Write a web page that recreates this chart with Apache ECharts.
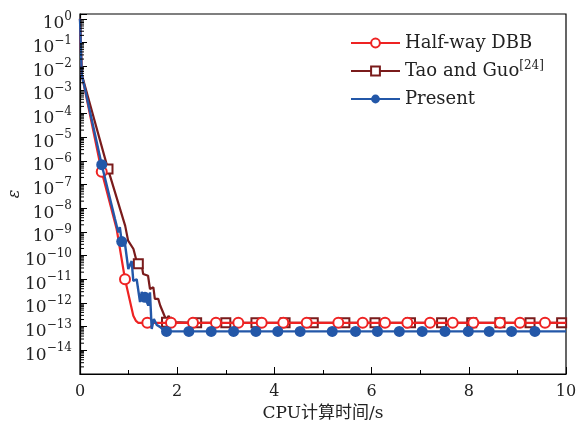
<!DOCTYPE html>
<html><head><meta charset="utf-8">
<script src="https://cdn.jsdelivr.net/npm/echarts@6/dist/echarts.min.js"></script>
<style>html,body{margin:0;padding:0;background:#fff}#c{width:577px;height:427px}</style>
</head><body><div id="c"></div>
<script>
// ---- data ----
const seriesNames = ['Half-way DBB', 'Tao and Guo', 'Present'];
const xTicks = [0, 2, 4, 6, 8, 10];
const yTickExponents = [-14,-13,-12,-11,-10,-9,-8,-7,-6,-5,-4,-3,-2,-1,0];

// Half-way DBB (line vertices)
const redT = [0, 0.035, 0.447, 0.70, 0.755, 0.926, 1.097, 1.152, 1.20, 10];
const redV = [1, 4.6e-3, 3.5e-7, 3.5e-9, 1.3e-9, 1.0e-11, 2.9e-13, 1.75e-13, 1.45e-13, 1.45e-13];
const redMarkT = [0.447, 0.926, 1.385, 1.872, 2.325, 2.798, 3.257, 3.739, 4.183, 4.665, 5.315, 5.817, 6.276, 6.735, 7.202, 7.669, 8.093, 8.642, 9.053, 9.568];
const redMarkV = [3.5e-7, 1.0e-11, 1.45e-13, 1.45e-13, 1.45e-13, 1.45e-13, 1.45e-13, 1.45e-13, 1.45e-13, 1.45e-13, 1.45e-13, 1.45e-13, 1.45e-13, 1.45e-13, 1.45e-13, 1.45e-13, 1.45e-13, 1.45e-13, 1.45e-13, 1.45e-13];

// Tao and Guo
const darkT = [0, 0.035, 0.576, 0.93, 0.99, 1.10, 1.17, 1.20, 1.22, 1.27, 1.30, 1.40, 1.44, 1.51, 1.54, 1.61, 1.65, 1.68, 1.75, 1.78, 1.82, 1.89, 10];
const darkV = [1, 4.6e-3, 4.5e-7, 1.8e-9, 4.3e-10, 1.9e-10, 5.2e-11, 4.5e-11, 6.8e-11, 4.0e-11, 1.66e-11, 1.41e-11, 3.9e-12, 4.6e-12, 1.48e-12, 1.48e-12, 7.8e-13, 8.9e-13, 2.5e-13, 1.55e-13, 2.9e-13, 1.55e-13, 1.45e-13];
const darkMarkT = [0.576, 1.20, 1.78, 2.40, 3.00, 3.62, 4.22, 4.80, 5.45, 6.07, 6.80, 7.44, 8.06, 8.64, 9.26, 9.91];
const darkMarkV = [4.5e-7, 4.5e-11, 1.55e-13, 1.45e-13, 1.45e-13, 1.45e-13, 1.45e-13, 1.45e-13, 1.45e-13, 1.45e-13, 1.45e-13, 1.45e-13, 1.45e-13, 1.45e-13, 1.45e-13, 1.45e-13];

// Present
const blueT = [0, 0.035, 0.447, 0.72, 0.789, 0.82, 0.858, 0.926, 0.994, 1.063, 1.097, 1.166, 1.235, 1.27, 1.337, 1.405, 1.44, 1.475, 1.52, 1.58, 1.646, 1.75, 10];
const blueV = [1, 4.6e-3, 6.9e-7, 3.5e-9, 9.5e-10, 1.6e-9, 3.9e-10, 3.1e-10, 2.7e-11, 5.9e-11, 8.5e-12, 1.0e-11, 1.1e-12, 2.9e-12, 1.74e-12, 7.8e-13, 2.8e-12, 7.9e-14, 2.1e-13, 1.17e-13, 9.8e-14, 6.3e-14, 6.3e-14];
const blueMarkT = [0.447, 0.858, 1.337, 1.78, 2.24, 2.70, 3.16, 3.62, 4.07, 4.53, 5.19, 5.67, 6.12, 6.57, 7.04, 7.51, 7.99, 8.42, 8.88, 9.36];
const blueMarkV = [6.9e-7, 3.9e-10, 1.74e-12, 6.3e-14, 6.3e-14, 6.3e-14, 6.3e-14, 6.3e-14, 6.3e-14, 6.3e-14, 6.3e-14, 6.3e-14, 6.3e-14, 6.3e-14, 6.3e-14, 6.3e-14, 6.3e-14, 6.3e-14, 6.3e-14, 6.3e-14];

// ---- build ----
function build(t, v, mt, mv) {
  const items = [];
  t.forEach((x, i) => items.push({ value: [x, v[i]], symbol: 'none' }));
  mt.forEach((x, i) => items.push({ value: [x, mv[i]] }));
  items.sort((a, b) => a.value[0] - b.value[0] || (a.symbol ? -1 : 1));
  return items;
}
const SERIF = '"DejaVu Serif", "Noto Sans CJK SC", serif';
const colors = ['#ee2323', '#7a1b1b', '#2357a8'];
const Y_MIN = 1e-15, Y_MAX = 1.6;

// logarithmic minor tick positions (2..9 x 10^e) on the y axis
const minorVals = [];
for (let e = -15; e <= 0; e++) for (let k = 2; k <= 9; k++) { const v = k * Math.pow(10, e); if (v <= Y_MAX) minorVals.push([0, v]); }

const chart = echarts.init(document.getElementById('c'), null, { renderer: 'canvas' });
chart.setOption({
  animation: false,
  backgroundColor: '#fff',
  grid: { left: 80, right: 11, top: 14, bottom: 53, containLabel: false, outerBoundsMode: 'none',
    show: true, borderColor: '#000', borderWidth: 1.2, backgroundColor: 'transparent' },
  legend: {
    data: seriesNames,
    orient: 'vertical', left: 350, top: 34, padding: 0,
    itemWidth: 49, itemHeight: 11, itemGap: 8,
    textStyle: { fontFamily: SERIF, fontSize: 18, color: '#222',
      rich: { s: { fontFamily: SERIF, fontSize: 12, color: '#222', lineHeight: 12, padding: [0, 0, 10, 0] } } },
    formatter: n => n === 'Tao and Guo' ? 'Tao and Guo{s|[24]}' : n
  },
  xAxis: {
    type: 'value', min: xTicks[0], max: xTicks[xTicks.length - 1], interval: 2,
    name: 'CPU计算时间/s', nameLocation: 'middle', nameGap: 30,
    nameTextStyle: { fontFamily: SERIF, fontSize: 17, color: '#222' },
    axisLine: { lineStyle: { color: '#000', width: 1.2 } },
    axisTick: { inside: true, length: 7, lineStyle: { color: '#000' } },
    minorTick: { show: true, splitNumber: 2, length: 4, lineStyle: { color: '#000' } },
    splitLine: { show: false },
    axisLabel: { fontFamily: SERIF, fontSize: 16, color: '#222', margin: 10 }
  },
  yAxis: {
    type: 'log', logBase: 10, min: Y_MIN, max: Y_MAX, interval: 1,
    name: 'ε', nameLocation: 'middle', nameGap: 57, nameRotate: 90, nameMoveOverlap: false,
    nameTextStyle: { fontFamily: SERIF, fontStyle: 'italic', fontSize: 16, color: '#222' },
    axisLine: { lineStyle: { color: '#000', width: 1.2 } },
    axisTick: { inside: true, length: 7, lineStyle: { color: '#000' } },
    minorTick: { show: false },
    splitLine: { show: false },
    axisLabel: {
      margin: 8,
      formatter: function (v) {
        const l = Math.log10(v), e = Math.round(l);
        if (Math.abs(l - e) > 0.01 || yTickExponents.indexOf(e) < 0) return '';
        return '{b|10}{s|' + (e < 0 ? '\u2212' + (-e) : e) + '}';
      },
      rich: {
        b: { fontFamily: SERIF, fontSize: 17, color: '#222', lineHeight: 17, padding: [10, 0, 0, 0] },
        s: { fontFamily: SERIF, fontSize: 12, color: '#222', lineHeight: 12, padding: [0, 0, 4, 0] }
      }
    }
  },
  series: [
    { name: seriesNames[0], type: 'line', data: build(redT, redV, redMarkT, redMarkV),
      symbol: 'emptyCircle', symbolSize: 10, showAllSymbol: true, z: 3,
      lineStyle: { color: colors[0], width: 2.2 }, itemStyle: { color: colors[0], borderWidth: 1.5 } },
    { name: seriesNames[1], type: 'line', data: build(darkT, darkV, darkMarkT, darkMarkV),
      symbol: 'emptyRect', symbolSize: 9, showAllSymbol: true, z: 2,
      lineStyle: { color: colors[1], width: 2.2 }, itemStyle: { color: colors[1], borderWidth: 1.5 } },
    { name: seriesNames[2], type: 'line', data: build(blueT, blueV, blueMarkT, blueMarkV),
      symbol: 'circle', symbolSize: 11, showAllSymbol: true, z: 4,
      lineStyle: { color: colors[2], width: 2.4 }, itemStyle: { color: colors[2] } },
    { // logarithmic minor ticks along the y axis
      name: 'minorTicks', type: 'custom', data: minorVals, silent: true, z: 10, clip: false,
      encode: { x: 0, y: 1 },
      renderItem: function (params, api) {
        const p = api.coord([api.value(0), api.value(1)]);
        return { type: 'line', shape: { x1: p[0], y1: p[1], x2: p[0] + 4, y2: p[1] },
                 style: { stroke: '#000', lineWidth: 1 } };
      }
    }
  ]
});
</script></body></html>
